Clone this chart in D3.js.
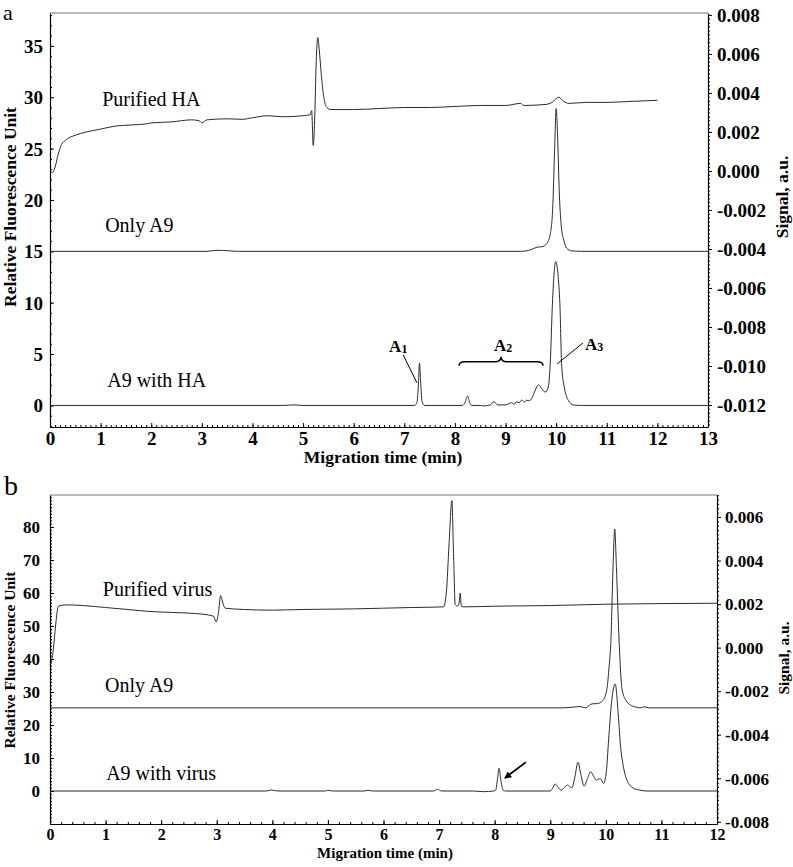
<!DOCTYPE html>
<html>
<head>
<meta charset="utf-8">
<script src="https://cdn.jsdelivr.net/npm/d3@7"></script>
<style>
  html, body { margin: 0; padding: 0; background: #fff; }
  svg { display: block; font-family: "Liberation Serif", "Times New Roman", serif; }
  .trace { fill: none; stroke: #2b2b2b; stroke-width: 1; stroke-linejoin: round; }
  .frame-top { stroke: #777; stroke-width: 1; }
  .leader { stroke: #000; stroke-width: 1; fill: none; }
  .brace { stroke: #000; stroke-width: 1.5; fill: none; }
  .arrow { stroke: #000; stroke-width: 1.8; fill: none; }
</style>
</head>
<body>
<svg id="chart" width="793" height="867"></svg>
<script>
// ---- panel a: migration time (min) vs relative fluorescence ----
const aXTicks = [0, 1, 2, 3, 4, 5, 6, 7, 8, 9, 10, 11, 12, 13];
const aLeftTicks = [0, 5, 10, 15, 20, 25, 30, 35];
const aRightTicks = [-0.012, -0.010, -0.008, -0.006, -0.004, -0.002, 0.000, 0.002, 0.004, 0.006, 0.008];
const aLabels = ["Purified HA", "Only A9", "A9 with HA"];

const aPurifiedHA = [
  [0, 22.7], [0.05, 22.7], [0.1, 23.2], [0.16, 24.4], [0.22, 25.3], [0.33, 25.9], [0.5, 26.3],
  [0.7, 26.6], [1.0, 26.9], [1.3, 27.2], [1.6, 27.3], [1.9, 27.4], [2.0, 27.5], [2.4, 27.6],
  [2.8, 27.8], [2.95, 27.7], [3.0, 27.5], [3.1, 27.8], [3.5, 27.9], [3.8, 27.85], [4.0, 28.0],
  [4.3, 28.2], [4.6, 28.1], [5.0, 28.2], [5.14, 28.3], [5.17, 28.7], [5.2, 25.3], [5.23, 28.0],
  [5.26, 33.5], [5.29, 35.8], [5.32, 34.6], [5.36, 32.2], [5.41, 30.0], [5.47, 29.0], [5.55, 28.8],
  [6.0, 28.8], [6.5, 28.9], [7.0, 29.0], [7.5, 29.0], [8.0, 29.1], [8.5, 29.2], [9.0, 29.2],
  [9.3, 29.4], [9.36, 29.2], [9.8, 29.3], [9.92, 29.5], [10.05, 30.0], [10.15, 29.6], [10.25, 29.4],
  [10.6, 29.5], [11.0, 29.5], [11.5, 29.6], [12.0, 29.7]
];
const aOnlyA9 = [
  [0, 15.0], [3.1, 15.0], [3.3, 15.1], [3.55, 15.05], [3.7, 15.0], [9.3, 15.0], [9.5, 15.15],
  [9.62, 15.4], [9.72, 15.45], [9.82, 15.8], [9.88, 16.6], [9.93, 19.0], [9.97, 25.0], [10.0, 28.9],
  [10.03, 26.0], [10.06, 21.0], [10.1, 17.5], [10.15, 16.1], [10.21, 15.3], [10.3, 15.05],
  [10.5, 15.0], [13, 15.0]
];
const aA9WithHA = [
  [0, 0], [4.6, 0], [4.8, 0.05], [5.0, 0], [7.2, 0], [7.25, 0.3], [7.28, 2.2], [7.3, 4.1],
  [7.32, 2.5], [7.35, 0.4], [7.4, 0], [8.15, 0], [8.2, 0.3], [8.25, 0.92], [8.29, 0.3], [8.33, 0],
  [8.5, 0], [8.56, -0.05], [8.7, 0.05], [8.77, 0.37], [8.84, 0.05], [9.0, 0.05], [9.12, 0.27],
  [9.17, 0.1], [9.22, 0.37], [9.27, 0.25], [9.32, 0.53], [9.37, 0.35], [9.42, 0.5], [9.47, 0.45],
  [9.52, 0.7], [9.58, 1.4], [9.65, 2.0], [9.72, 1.6], [9.78, 1.3], [9.84, 1.7], [9.88, 3.8],
  [9.93, 10.3], [9.99, 14.0], [10.07, 10.3], [10.11, 3.8], [10.16, 1.8], [10.24, 0.5],
  [10.34, 0.05], [10.5, 0], [13, 0]
];

// ---- panel b ----
const bXTicks = [0, 1, 2, 3, 4, 5, 6, 7, 8, 9, 10, 11, 12];
const bLeftTicks = [0, 10, 20, 30, 40, 50, 60, 70, 80];
const bRightTicks = [-0.008, -0.006, -0.004, -0.002, 0.000, 0.002, 0.004, 0.006];
const bLabels = ["Purified virus", "Only A9", "A9 with virus"];

const bPurifiedVirus = [
  [0, 38.2], [0.03, 39.5], [0.06, 43], [0.1, 50], [0.13, 54.5], [0.16, 56.1], [0.3, 56.4],
  [0.6, 56.2], [1.0, 55.6], [1.4, 55.0], [1.8, 54.4], [2.2, 54.1], [2.6, 53.8], [2.94, 53.0],
  [2.99, 51.2], [3.03, 54], [3.07, 59.2], [3.11, 57], [3.15, 55.4], [3.5, 55.0], [4.0, 54.8],
  [4.5, 55.0], [5.0, 55.1], [5.5, 55.2], [6.0, 55.4], [6.5, 55.6], [7.08, 55.8], [7.13, 60],
  [7.18, 75], [7.23, 88.0], [7.26, 72], [7.29, 56.5], [7.33, 56], [7.36, 57], [7.38, 60],
  [7.4, 56], [7.43, 55.8], [8, 56.0], [9, 56.2], [10, 56.6], [11, 56.8], [12, 56.9]
];
const bOnlyA9 = [
  [0, 25.2], [9.2, 25.2], [9.4, 25.4], [9.54, 25.6], [9.63, 25.2], [9.75, 26.4], [9.85, 26.5],
  [9.95, 27.5], [10.02, 31], [10.06, 38], [10.09, 45], [10.13, 68], [10.16, 79.4], [10.19, 68],
  [10.24, 45], [10.29, 31], [10.36, 27.5], [10.44, 26.1], [10.55, 25.4], [10.62, 25.2],
  [10.7, 25.5], [10.78, 25.2], [12, 25.2]
];
const bA9WithVirus = [
  [0, 0], [3.9, 0], [3.98, 0.3], [4.1, 0], [4.95, 0], [5.0, 0.2], [5.08, 0], [5.65, 0],
  [5.72, 0.2], [5.8, 0], [6.9, 0], [6.97, 0.5], [7.05, 0], [7.6, 0], [7.8, -0.2], [7.98, 0],
  [8.02, 0.3], [8.05, 3.5], [8.08, 6.9], [8.11, 3.5], [8.15, 0.3], [8.2, 0], [9.0, 0],
  [9.04, 0.8], [9.09, 2.1], [9.14, 1.2], [9.19, 0.3], [9.25, 1.0], [9.31, 1.8], [9.36, 1.2],
  [9.39, 1.0], [9.44, 4], [9.5, 8.7], [9.55, 5], [9.61, 1.5], [9.67, 3.8], [9.73, 5.8],
  [9.78, 4.5], [9.83, 3.3], [9.9, 3.8], [9.96, 2.3], [10.01, 6], [10.05, 15.5], [10.11, 28],
  [10.17, 32.4], [10.22, 24], [10.26, 14.5], [10.32, 7], [10.38, 3.3], [10.5, 0.8], [10.6, 0.3],
  [10.74, 0], [12, 0]
];

class Electropherogram {
  constructor(opts) {
    Object.assign(this, opts);
    this.init();
  }

  init() {
    this.setup();
    this.render();
  }

  setup() {
    const { left, right, top, bottom } = this.box;
    this.x = d3.scaleLinear().domain(this.xDomain).range([left, right]);
    this.yL = d3.scaleLinear().domain(this.yLeftDomain).range([bottom, top]);
    this.yR = d3.scaleLinear().domain(this.yRightDomain).range([bottom, top]);
    this.line = d3
      .line()
      .x((d) => this.x(d[0]))
      .y((d) => this.yL(d[1]))
      .curve(d3.curveMonotoneX);
    this.formatRight = (d) => (Math.abs(d) < 1e-9 ? "0.000" : d.toFixed(3));
    this.g = this.svg.append("g").attr("class", "panel");
  }

  minor(domain, step) {
    const start = Math.ceil(domain[0] / step - 1e-6) * step;
    return d3.range(start, domain[1] + 1e-9, step);
  }

  render() {
    this.renderFrame();
    this.renderXAxis();
    this.renderLeftAxis();
    this.renderRightAxis();
    this.renderTraces();
    this.renderLabels();
    this.renderAnnotations();
    this.renderTitles();
  }

  styleAxis(g, size) {
    g.attr("font-size", size)
      .attr("font-family", null)
      .attr("font-weight", "bold")
      .attr("color", "#000")
      .call((g) => g.select(".domain").attr("stroke-width", 1.2));
  }

  renderFrame() {
    const { left, right, top } = this.box;
    this.g.append("line").attr("class", "frame-top").attr("x1", left).attr("x2", right).attr("y1", top).attr("y2", top);
  }

  renderXAxis() {
    const s = this.style;
    this.g
      .append("g")
      .attr("transform", `translate(0,${this.box.bottom})`)
      .attr("color", "#000")
      .call(d3.axisBottom(this.x).tickValues(this.minor(this.xDomain, this.xMinor)).tickSize(-2).tickSizeOuter(0).tickFormat(""))
      .call((g) => g.select(".domain").remove());
    this.g
      .append("g")
      .attr("transform", `translate(0,${this.box.bottom})`)
      .call(d3.axisBottom(this.x).tickValues(this.xTicks).tickSize(-4).tickSizeOuter(0).tickFormat(d3.format("d")))
      .call((g) => this.styleAxis(g, s.xTick))
      .call((g) => g.selectAll(".tick text").attr("y", s.xTickBaseline).attr("dy", null));
  }

  renderLeftAxis() {
    const s = this.style;
    this.g
      .append("g")
      .attr("transform", `translate(${this.box.left},0)`)
      .attr("color", "#000")
      .call(d3.axisLeft(this.yL).tickValues(this.minor(this.yLeftDomain, this.yLeftMinor)).tickSize(-2).tickSizeOuter(0).tickFormat(""))
      .call((g) => g.select(".domain").remove());
    this.g
      .append("g")
      .attr("transform", `translate(${this.box.left},0)`)
      .call(d3.axisLeft(this.yL).tickValues(this.yLeftTicks).tickSize(-4).tickPadding(s.leftPad).tickSizeOuter(0))
      .call((g) => this.styleAxis(g, s.yTick))
      .call((g) => g.selectAll(".tick text").attr("dy", "0.34em"));
  }

  renderRightAxis() {
    const s = this.style;
    this.g
      .append("g")
      .attr("transform", `translate(${this.box.right},0)`)
      .attr("color", "#000")
      .call(d3.axisRight(this.yR).tickValues(this.minor(this.yRightDomain, this.yRightMinor)).tickSize(2).tickSizeOuter(0).tickFormat(""))
      .call((g) => g.select(".domain").remove());
    this.g
      .append("g")
      .attr("transform", `translate(${this.box.right},0)`)
      .call(d3.axisRight(this.yR).tickValues(this.yRightTicks).tickSize(4).tickPadding(s.rightPad).tickSizeOuter(0).tickFormat(this.formatRight))
      .call((g) => this.styleAxis(g, s.yTick))
      .call((g) => g.selectAll(".tick text").attr("dy", "0.34em"));
  }

  renderTraces() {
    this.g
      .append("g")
      .selectAll(".trace")
      .data(this.traces)
      .join("path")
      .attr("class", "trace")
      .attr("d", this.line);
  }

  renderLabels() {
    this.g
      .append("g")
      .attr("font-size", this.style.label)
      .selectAll("text")
      .data(this.labels)
      .join("text")
      .attr("x", (d, i) => this.x(this.labelPos[i][0]))
      .attr("y", (d, i) => this.yL(this.labelPos[i][1]))
      .text((d) => d);
  }

  renderAnnotations() {
    const a = this.annotations || {};
    const g = this.g.append("g");

    (a.peaks || []).forEach((p) => {
      const t = g
        .append("text")
        .attr("x", this.x(p.t))
        .attr("y", this.yL(p.v))
        .attr("text-anchor", "middle")
        .attr("font-weight", "bold")
        .attr("font-size", this.style.peak)
        .text(p.text);
      t.append("tspan").attr("font-size", this.style.peak * 0.7).attr("dy", 1).text(p.sub);
    });

    (a.leaders || []).forEach((l) => {
      g.append("line")
        .attr("class", "leader")
        .attr("x1", this.x(l[0]))
        .attr("y1", this.yL(l[1]))
        .attr("x2", this.x(l[2]))
        .attr("y2", this.yL(l[3]));
    });

    (a.braces || []).forEach((b) => {
      const x1 = this.x(b.t1);
      const x2 = this.x(b.t2);
      const xm = (x1 + x2) / 2;
      const y = this.yL(b.v);
      const r = 6;
      const path = d3.path();
      path.moveTo(x1, y + 4);
      path.quadraticCurveTo(x1, y, x1 + r, y);
      path.lineTo(xm - r, y);
      path.quadraticCurveTo(xm, y, xm, y - 5);
      path.quadraticCurveTo(xm, y, xm + r, y);
      path.lineTo(x2 - r, y);
      path.quadraticCurveTo(x2, y, x2, y + 4);
      g.append("path").attr("class", "brace").attr("d", path.toString());
    });

    if ((a.arrows || []).length) {
      this.svg
        .append("defs")
        .append("marker")
        .attr("id", "arrowhead")
        .attr("viewBox", "0 0 10 10")
        .attr("refX", 8)
        .attr("refY", 5)
        .attr("markerWidth", 5)
        .attr("markerHeight", 4)
        .attr("orient", "auto")
        .append("path")
        .attr("d", "M0,0 L10,5 L0,10 Z")
        .attr("fill", "#000");
      a.arrows.forEach((l) => {
        g.append("line")
          .attr("class", "arrow")
          .attr("x1", this.x(l[0]))
          .attr("y1", this.yL(l[1]))
          .attr("x2", this.x(l[2]))
          .attr("y2", this.yL(l[3]))
          .attr("marker-end", "url(#arrowhead)");
      });
    }
  }

  renderTitles() {
    const s = this.style;
    this.g
      .append("text")
      .attr("x", s.tagX)
      .attr("y", s.tagY)
      .attr("font-size", s.tag)
      .text(this.tag);
    this.g
      .append("text")
      .attr("x", s.xTitleX)
      .attr("y", s.xTitleY)
      .attr("text-anchor", "middle")
      .attr("font-weight", "bold")
      .attr("font-size", s.xTitle)
      .text("Migration time (min)");
    this.g
      .append("text")
      .attr("transform", `translate(${s.leftTitleX},${s.leftTitleY}) rotate(-90)`)
      .attr("text-anchor", "middle")
      .attr("font-weight", "bold")
      .attr("font-size", s.yTitle)
      .text("Relative Fluorescence Unit");
    this.g
      .append("text")
      .attr("transform", `translate(${s.rightTitleX},${s.rightTitleY}) rotate(-90)`)
      .attr("text-anchor", "middle")
      .attr("font-weight", "bold")
      .attr("font-size", s.yTitle)
      .text("Signal, a.u.");
  }
}

const svg = d3.select("#chart");

const panelA = new Electropherogram({
  svg,
  tag: "a",
  box: { left: 50, right: 708, top: 13, bottom: 427 },
  xDomain: [0, 13],
  yLeftDomain: [-2.1, 38.2],
  yRightDomain: [-0.01313, 0.0081],
  xTicks: aXTicks,
  xMinor: 0.1,
  yLeftTicks: aLeftTicks,
  yLeftMinor: 1,
  yRightTicks: aRightTicks,
  yRightMinor: 0.0002,
  traces: [aPurifiedHA, aOnlyA9, aA9WithHA],
  labels: aLabels,
  labelPos: [[1.03, 29.1], [1.09, 16.9], [1.13, 1.84]],
  annotations: {
    peaks: [
      { text: "A", sub: "1", t: 6.88, v: 5.2 },
      { text: "A", sub: "2", t: 8.95, v: 5.25 },
      { text: "A", sub: "3", t: 10.75, v: 5.4 },
    ],
    leaders: [
      [6.98, 4.91, 7.25, 2.19],
      [10.53, 6.08, 10.02, 4.04],
    ],
    braces: [{ t1: 8.08, t2: 9.74, v: 4.25 }],
  },
  style: {
    xTick: 19, yTick: 19, xTickBaseline: 18, leftPad: 7, rightPad: 5,
    label: 20, peak: 17, tag: 22, tagX: 3, tagY: 20,
    xTitle: 17.5, xTitleX: 383, xTitleY: 463,
    yTitle: 17.5, leftTitleX: 16, leftTitleY: 207, rightTitleX: 788, rightTitleY: 197,
  },
});

const panelB = new Electropherogram({
  svg,
  tag: "b",
  box: { left: 50, right: 717, top: 495, bottom: 824 },
  xDomain: [0, 12],
  yLeftDomain: [-10, 89.7],
  yRightDomain: [-0.0081, 0.00701],
  xTicks: bXTicks,
  xMinor: 0.2,
  yLeftTicks: bLeftTicks,
  yLeftMinor: 1,
  yRightTicks: bRightTicks,
  yRightMinor: 0.0002,
  traces: [bPurifiedVirus, bOnlyA9, bA9WithVirus],
  labels: bLabels,
  labelPos: [[0.95, 59.2], [0.99, 30.0], [1.01, 3.3]],
  annotations: {
    arrows: [[8.56, 8.7, 8.19, 4.0]],
  },
  style: {
    xTick: 16, yTick: 17, xTickBaseline: 16, leftPad: 10, rightPad: 4,
    label: 20, peak: 16, tag: 28, tagX: 4, tagY: 495,
    xTitle: 15, xTitleX: 385, xTitleY: 858,
    yTitle: 15.5, leftTitleX: 15, leftTitleY: 660, rightTitleX: 789, rightTitleY: 658,
  },
});
</script>
</body>
</html>
